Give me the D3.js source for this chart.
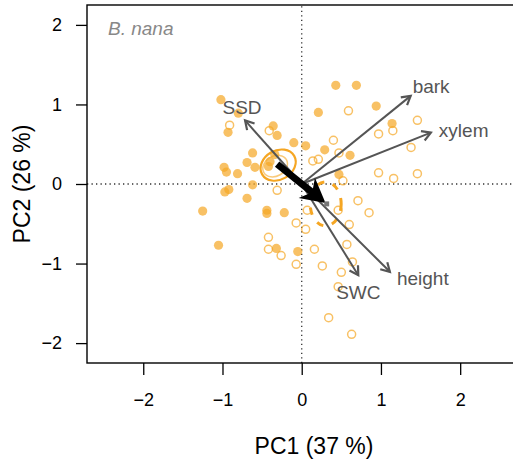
<!DOCTYPE html>
<html>
<head>
<meta charset="utf-8">
<script src="https://cdn.jsdelivr.net/npm/d3@7"></script>
<style>
  body { margin: 0; background: #fff; }
  text { font-family: "Liberation Sans", Arial, sans-serif; }
</style>
</head>
<body>
<div id="vis"></div>
<script>
// PCA scores, group 1 (filled) and group 2 (open)
var filledX = [0.43, 0.69, -1.02, -0.80, 0.21, 0.94, -0.93, -0.36, -0.31, -0.10, 0.05, 0.29, 0.61, 1.14,
  -0.62, -0.69, -0.98, -0.95, -0.81, -0.59, -0.62, -0.97, -0.92, -0.69, -1.25, -0.44, -0.44, -0.22,
  -1.05, -0.32, -0.05, 0.47, -0.40, -0.42, -0.34];
var filledY = [1.24, 1.24, 1.06, 0.89, 0.90, 0.98, 0.65, 0.73, 0.61, 0.52, 0.48, 0.43, 0.36, 0.76,
  0.39, 0.27, 0.21, 0.15, 0.13, 0.21, -0.01, -0.10, -0.07, -0.18, -0.34, -0.33, -0.37, -0.36,
  -0.77, -0.81, -0.85, 0.12, 0.28, 0.22, 0.37];

var openX = [0.59, 1.46, 0.97, 1.15, 1.38, 0.40, 0.14, 0.21, 0.47, 0.97, 1.16, 1.46, 0.52, -0.91, -0.41,
  -0.31, 0.71, 0.85, 0.60, -0.07, 0.05, -0.42, -0.42, -0.26, -0.07, 0.16, 0.26, 0.57, 0.64, 0.50,
  0.46, 0.34, 0.63, 0.07, 0.46];
var openY = [0.92, 0.80, 0.63, 0.67, 0.46, 0.55, 0.29, 0.31, 0.39, 0.14, 0.07, 0.13, 0.04, 0.74, 0.67,
  -0.08, -0.21, -0.36, -0.51, -0.49, -0.57, -0.67, -0.82, -0.90, -1.01, -0.82, -1.03, -0.76, -0.98, -1.11,
  -1.29, -1.68, -1.89, -0.33, -0.33];

// group centroids
var centroid1 = [-0.31, 0.25];
var centroid2 = [0.315, -0.25];

// loadings
var varNames = ["SSD", "bark", "xylem", "height", "SWC"];
var varX = [-0.715, 1.375, 1.63, 1.113, 0.714];
var varY = [0.80, 1.108, 0.646, -1.104, -1.146];

var xTicks = [-2, -1, 0, 1, 2];
var yTicks = [-2, -1, 0, 1, 2];

var width = 513, height = 461;
var margin = { top: 5, left: 87, bottom: 98 };

var svg = d3.select('#vis')
  .append('svg')
  .attr('width', width)
  .attr('height', height);

var x_scale = d3.scaleLinear().domain([-2.71, 3.02]).range([margin.left, 541]);
var y_scale = d3.scaleLinear().domain([-2.25, 2.25]).range([height - margin.bottom, margin.top]);

var orange = '#f5a623';
var grey = '#555';

// zero lines
svg.append('line')
  .attr('x1', x_scale(-2.71)).attr('x2', x_scale(3.02))
  .attr('y1', y_scale(0)).attr('y2', y_scale(0))
  .attr('stroke', '#333').attr('stroke-width', 1.3).attr('stroke-dasharray', '1.3,3.2');
svg.append('line')
  .attr('x1', x_scale(0)).attr('x2', x_scale(0))
  .attr('y1', y_scale(-2.25)).attr('y2', y_scale(2.25))
  .attr('stroke', '#333').attr('stroke-width', 1.3).attr('stroke-dasharray', '1.3,3.2');

// points
var filled = filledX.map(function(d, i) { return { x: d, y: filledY[i] }; });
var open = openX.map(function(d, i) { return { x: d, y: openY[i] }; });

svg.selectAll('.fpt')
  .data(filled)
  .enter()
  .append('circle')
  .attr('class', 'fpt')
  .attr('cx', function(d) { return x_scale(d.x); })
  .attr('cy', function(d) { return y_scale(d.y); })
  .attr('r', 4.6)
  .attr('fill', orange)
  .attr('fill-opacity', 0.7);

svg.selectAll('.opt')
  .data(open)
  .enter()
  .append('circle')
  .attr('class', 'opt')
  .attr('cx', function(d) { return x_scale(d.x); })
  .attr('cy', function(d) { return y_scale(d.y); })
  .attr('r', 4)
  .attr('fill', 'none')
  .attr('stroke', orange)
  .attr('stroke-opacity', 0.7)
  .attr('stroke-width', 1.5);

// group ellipses
var c1 = [x_scale(centroid1[0]), y_scale(centroid1[1])];
var c2 = [x_scale(centroid2[0]), y_scale(centroid2[1])];

svg.append('ellipse')
  .attr('transform', 'translate(' + (c1[0] + 1) + ',' + (c1[1] + 1) + ')rotate(-30)')
  .attr('rx', 18.5).attr('ry', 14.5)
  .attr('fill', 'none').attr('stroke', orange).attr('stroke-width', 2.2);
svg.append('ellipse')
  .attr('transform', 'translate(' + (c1[0] - 2) + ',' + (c1[1] + 2) + ')rotate(-30)')
  .attr('rx', 13).attr('ry', 10)
  .attr('fill', 'none').attr('stroke', orange).attr('stroke-opacity', 0.6).attr('stroke-width', 1.5);

svg.append('ellipse')
  .attr('cx', c2[0] - 1).attr('cy', c2[1])
  .attr('rx', 15.5).attr('ry', 22)
  .attr('fill', 'none').attr('stroke', orange).attr('stroke-width', 3)
  .attr('stroke-dasharray', '7,9');

// loading arrows
var ox = x_scale(0), oy = y_scale(0);
var labelPos = {
  SSD: [-3, -12.7, 'middle'],
  bark: [2, -9.3, 'start'],
  xylem: [8, -2.7, 'start'],
  height: [7, 6.6, 'start'],
  SWC: [0, 16.7, 'middle']
};

varNames.forEach(function(name, i) {
  var tx = x_scale(varX[i]), ty = y_scale(varY[i]);
  var ang = Math.atan2(ty - oy, tx - ox);
  svg.append('line')
    .attr('x1', ox).attr('y1', oy).attr('x2', tx).attr('y2', ty)
    .attr('stroke', grey).attr('stroke-width', 2);
  var hl = 10, ha = Math.PI / 6;
  var p1 = [tx - hl * Math.cos(ang - ha), ty - hl * Math.sin(ang - ha)];
  var p2 = [tx - hl * Math.cos(ang + ha), ty - hl * Math.sin(ang + ha)];
  svg.append('path')
    .attr('d', 'M' + p1 + 'L' + tx + ',' + ty + 'L' + p2)
    .attr('fill', 'none').attr('stroke', grey).attr('stroke-width', 2.2)
    .attr('stroke-linejoin', 'miter');
  var lp = labelPos[name];
  svg.append('text')
    .attr('x', tx + lp[0])
    .attr('y', ty + lp[1])
    .attr('dy', '0.35em')
    .attr('text-anchor', lp[2])
    .attr('fill', grey)
    .style('font-size', '19px')
    .text(name);
});

// centroid shift arrow
var dx = c2[0] - c1[0], dy = c2[1] - c1[1];
var len = Math.sqrt(dx * dx + dy * dy);
var u = [dx / len, dy / len], n = [-u[1], u[0]];
var tip = [c2[0] - 1.5 * u[0], c2[1] - 1.5 * u[1]];
svg.append('line')
  .attr('x1', c1[0]).attr('y1', c1[1])
  .attr('x2', tip[0] - 16 * u[0]).attr('y2', tip[1] - 16 * u[1])
  .attr('stroke', '#000').attr('stroke-width', 7);
var w1 = [tip[0] - 24 * u[0] + 13 * n[0], tip[1] - 24 * u[1] + 13 * n[1]];
var w2 = [tip[0] - 24 * u[0] - 13 * n[0], tip[1] - 24 * u[1] - 13 * n[1]];
var notch = [tip[0] - 17 * u[0], tip[1] - 17 * u[1]];
svg.append('path')
  .attr('d', 'M' + tip + 'L' + w1 + 'L' + notch + 'L' + w2 + 'Z')
  .attr('fill', '#000');

svg.append('rect')
  .attr('x', c2[0] - 2.5).attr('y', c2[1] - 2.5)
  .attr('width', 5).attr('height', 5)
  .attr('fill', '#777');

// frame
svg.append('rect')
  .attr('x', margin.left).attr('y', margin.top)
  .attr('width', 541 - margin.left).attr('height', y_scale(-2.25) - margin.top)
  .attr('fill', 'none').attr('stroke', '#000').attr('stroke-width', 1.4);

// axes
var fmt = d3.format('d');
var x_axis = d3.axisBottom(x_scale).tickValues(xTicks).tickFormat(fmt).tickSize(12).tickPadding(18);
var y_axis = d3.axisLeft(y_scale).tickValues(yTicks).tickFormat(fmt).tickSize(11).tickPadding(14);

var gx = svg.append('g')
  .attr('transform', 'translate(0,' + y_scale(-2.25) + ')')
  .call(x_axis);
var gy = svg.append('g')
  .attr('transform', 'translate(' + margin.left + ',0)')
  .call(y_axis);

[gx, gy].forEach(function(g) {
  g.select('.domain').remove();
  g.selectAll('line').attr('stroke', '#000').attr('stroke-width', 1.3);
  g.selectAll('text')
    .attr('fill', '#000')
    .style('font-family', '"Liberation Sans", Arial, sans-serif')
    .style('font-size', '18px');
});

svg.append('text')
  .attr('x', 108).attr('y', 35)
  .attr('fill', '#888')
  .style('font-style', 'italic')
  .style('font-size', '19px')
  .text('B. nana');

svg.append('text')
  .attr('text-anchor', 'middle')
  .attr('x', (margin.left + 541) / 2)
  .attr('y', 454)
  .style('font-size', '23px')
  .text('PC1 (37 %)');

svg.append('text')
  .attr('text-anchor', 'middle')
  .attr('transform', 'translate(30,' + y_scale(0) + ')rotate(-90)')
  .style('font-size', '23px')
  .text('PC2 (26 %)');
</script>
</body>
</html>
